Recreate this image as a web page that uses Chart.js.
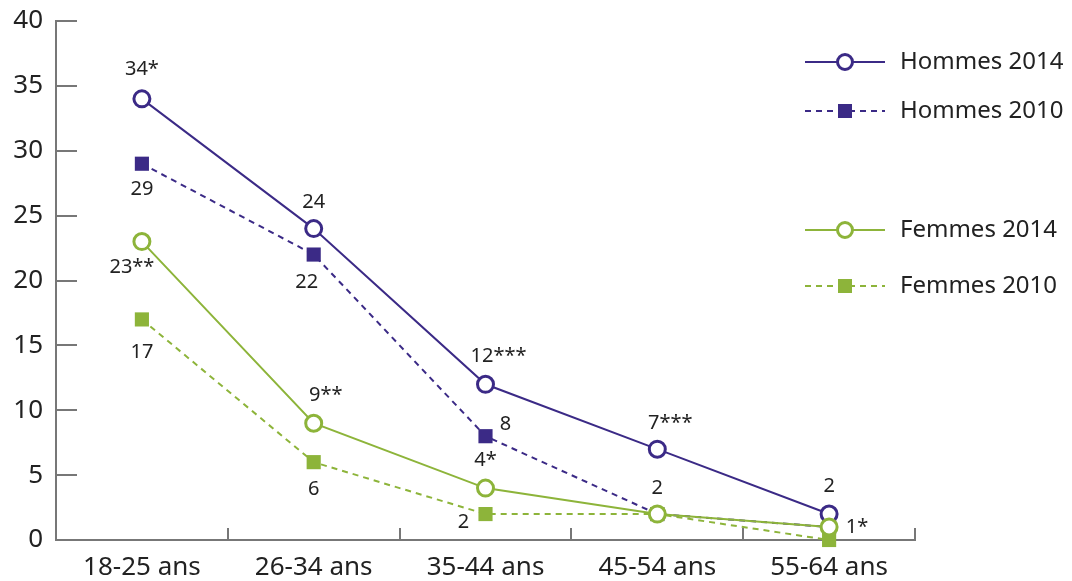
<!DOCTYPE html>
<html>
<head>
<meta charset="utf-8">
<script src="https://cdn.jsdelivr.net/npm/chart.js@4/dist/chart.umd.min.js"></script>
<style>
  html, body { margin: 0; padding: 0; background: #fff; }
  #wrap { width: 1072px; height: 581px; }
</style>
</head>
<body>
<div id="wrap"><canvas id="lineChart"></canvas></div>
<script>
// categories et valeurs
const categories = ['18-25 ans', '26-34 ans', '35-44 ans', '45-54 ans', '55-64 ans'];
const hommes2014 = [34, 24, 12, 7, 2];
const hommes2010 = [29, 22, 8, 2, 1];
const femmes2014 = [23, 9, 4, 2, 1];
const femmes2010 = [17, 6, 2, 2, 0];

// étiquettes affichées près des points ('' = rien)
const hommes2014Labels = ['34*', '24', '12***', '7***', '2'];
const hommes2010Labels = ['29', '22', '8', '', ''];
const femmes2014Labels = ['23**', '9**', '4*', '2', '1*'];
const femmes2010Labels = ['17', '6', '2', '', ''];

const yTicks = [0, 5, 10, 15, 20, 25, 30, 35, 40];

const violet = '#3b2a86';
const vert = '#8db43a';
const police = "'Noto Sans', sans-serif";

// décalages des étiquettes (dx, dy) par série
const labelOffsets = [
    [[0, -30], [0, -26], [13, -28], [13, -26], [0, -28]],
    [[0, 26], [-7, 28], [20, -12], [0, 0], [0, 0]],
    [[-10, 26], [12, -28], [0, -28], [0, -26], [28, 0]],
    [[0, 33], [0, 27], [-22, 8], [0, 0], [0, 0]]
];

const data = {
    labels: categories,
    datasets: [
        {
            label: 'Hommes 2014',
            data: hommes2014,
            extraLabels: hommes2014Labels,
            borderColor: violet,
            borderWidth: 2,
            pointStyle: 'circle',
            pointRadius: 8,
            pointBorderWidth: 3,
            pointBackgroundColor: '#fff',
            pointBorderColor: violet,
            order: 4
        },
        {
            label: 'Hommes 2010',
            data: hommes2010,
            extraLabels: hommes2010Labels,
            borderColor: violet,
            borderWidth: 2,
            borderDash: [6, 5],
            pointStyle: 'rect',
            pointRadius: 10,
            pointBorderWidth: 0,
            pointBackgroundColor: violet,
            pointBorderColor: violet,
            order: 3
        },
        {
            label: 'Femmes 2014',
            data: femmes2014,
            extraLabels: femmes2014Labels,
            borderColor: vert,
            borderWidth: 2,
            pointStyle: 'circle',
            pointRadius: 8,
            pointBorderWidth: 3,
            pointBackgroundColor: '#fff',
            pointBorderColor: vert,
            order: 1
        },
        {
            label: 'Femmes 2010',
            data: femmes2010,
            extraLabels: femmes2010Labels,
            borderColor: vert,
            borderWidth: 2,
            borderDash: [6, 5],
            pointStyle: 'rect',
            pointRadius: 10,
            pointBorderWidth: 0,
            pointBackgroundColor: vert,
            pointBorderColor: vert,
            order: 2
        }
    ]
};

// petits traits des axes (vers l'intérieur)
const axisTicks = {
    id: 'axisTicks',
    beforeDatasetsDraw(chart) {
        const c = chart.ctx;
        const sy = chart.scales.y, sx = chart.scales.x;
        const x0 = sy.right;
        c.save();
        c.strokeStyle = '#777';
        c.lineWidth = 2;
        c.setLineDash([]);
        yTicks.forEach(v => {
            const py = Math.round(sy.getPixelForValue(v));
            c.beginPath();
            c.moveTo(x0, py);
            c.lineTo(x0 + 21, py);
            c.stroke();
        });
        for (let i = 1; i <= categories.length; i++) {
            const px = Math.round(sx.getPixelForValue(i - 0.5));
            c.beginPath();
            c.moveTo(px, sy.bottom);
            c.lineTo(px, sy.bottom - 12);
            c.stroke();
        }
        c.restore();
    }
};

// étiquettes de valeurs
const pointLabels = {
    id: 'pointLabels',
    afterDatasetsDraw(chart) {
        const c = chart.ctx;
        c.save();
        c.font = '20px ' + police;
        c.fillStyle = '#222';
        c.textAlign = 'center';
        c.textBaseline = 'middle';
        chart.data.datasets.forEach((ds, i) => {
            const meta = chart.getDatasetMeta(i);
            meta.data.forEach((pt, j) => {
                const txt = ds.extraLabels[j];
                if (!txt) return;
                const off = labelOffsets[i][j];
                c.fillText(txt, pt.x + off[0], pt.y + off[1]);
            });
        });
        c.restore();
    }
};

// légende à droite
const sideLegend = {
    id: 'sideLegend',
    afterDraw(chart) {
        const c = chart.ctx;
        const rows = [62, 111, 230, 286];
        c.save();
        chart.data.datasets.forEach((ds, i) => {
            const y = rows[i];
            c.strokeStyle = ds.borderColor;
            c.lineWidth = 2;
            c.setLineDash(ds.borderDash || []);
            c.beginPath();
            c.moveTo(805, y);
            c.lineTo(885, y);
            c.stroke();
            c.setLineDash([]);
            if (ds.pointStyle === 'circle') {
                c.fillStyle = '#fff';
                c.lineWidth = 3;
                c.beginPath();
                c.arc(845, y, 7.5, 0, Math.PI * 2);
                c.fill();
                c.stroke();
            } else {
                c.fillStyle = ds.pointBackgroundColor;
                c.fillRect(838, y - 7, 14, 14);
            }
            c.fillStyle = '#222';
            c.font = '24px ' + police;
            c.textAlign = 'left';
            c.textBaseline = 'middle';
            c.fillText(ds.label, 900, y);
        });
        c.restore();
    }
};

const ctx = document.getElementById('lineChart').getContext('2d');
const lineChart = new Chart(ctx, {
    type: 'line',
    data: data,
    plugins: [axisTicks, pointLabels, sideLegend],
    options: {
        responsive: true,
        maintainAspectRatio: false,
        animation: false,
        clip: false,
        layout: {
            padding: { top: 21, right: 157, left: 0, bottom: 0 }
        },
        plugins: {
            legend: { display: false },
            tooltip: { enabled: false }
        },
        scales: {
            x: {
                offset: true,
                grid: { display: false, drawTicks: false },
                border: { display: true, color: '#777', width: 2 },
                ticks: {
                    color: '#222',
                    padding: 12,
                    font: { family: police, size: 26 }
                },
                afterFit(scale) {
                    scale.height = 41;
                    scale.paddingLeft = 0;
                    scale.paddingRight = 0;
                }
            },
            y: {
                min: 0,
                max: 40,
                afterBuildTicks(scale) { scale.ticks = yTicks.map(v => ({ value: v })); },
                grid: { display: false, drawTicks: false },
                border: { display: true, color: '#777', width: 2 },
                ticks: {
                    color: '#222',
                    padding: 13,
                    font: { family: police, size: 26 }
                },
                afterFit(scale) {
                    scale.width = 56;
                    scale.paddingTop = 0;
                    scale.paddingBottom = 0;
                }
            }
        }
    }
});
</script>
</body>
</html>
